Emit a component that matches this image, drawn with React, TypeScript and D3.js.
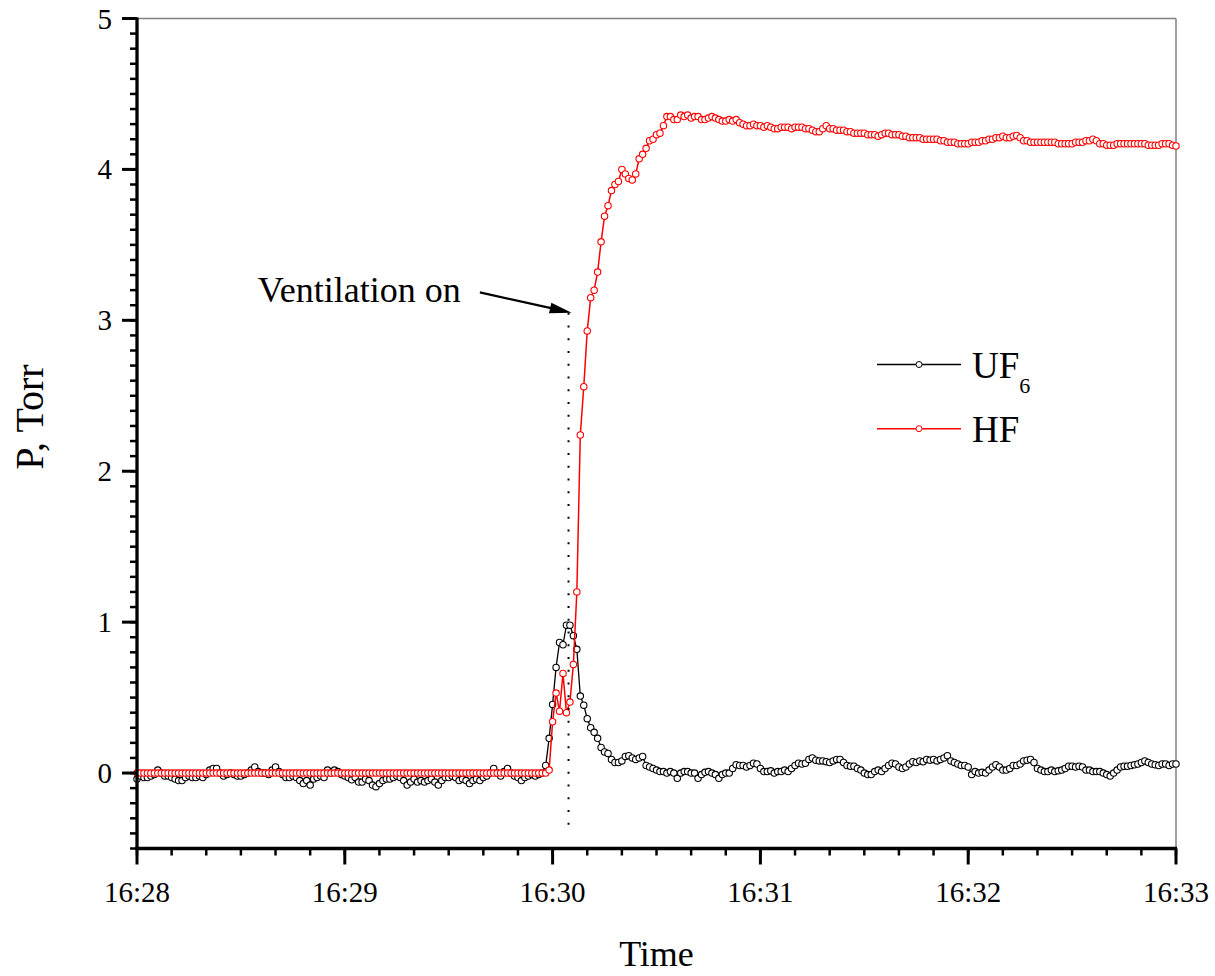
import React from "react";
import * as d3 from "d3";

// Sampling: one reading per second starting 16:28:00
const START_H = 16;
const START_M = 28;
const STEP_SECONDS = 1;

const uf6Values: number[] = [
  -0.04,-0.02,-0.03,-0.03,-0.02,-0.01,0.02,0.0,-0.02,-0.02,
  -0.03,-0.04,-0.05,-0.05,-0.03,-0.02,-0.03,-0.03,-0.02,-0.03,
  -0.01,0.02,0.03,0.03,0.0,-0.02,-0.01,0.0,-0.01,-0.02,
  -0.02,-0.01,0.0,0.02,0.04,0.01,0.0,0.0,-0.01,0.02,
  0.04,0.01,-0.01,-0.03,-0.03,-0.02,-0.03,-0.05,-0.07,-0.05,
  -0.08,-0.04,-0.03,-0.02,-0.03,0.02,0.0,0.02,0.01,-0.01,
  -0.02,-0.03,-0.045,-0.03,-0.06,-0.06,-0.04,-0.05,-0.08,-0.09,
  -0.07,-0.05,-0.04,-0.04,-0.03,-0.02,-0.03,-0.05,-0.08,-0.06,
  -0.04,-0.06,-0.05,-0.06,-0.05,-0.04,-0.06,-0.08,-0.05,-0.03,
  -0.03,-0.02,-0.03,-0.05,-0.04,-0.05,-0.07,-0.05,-0.04,-0.05,
  -0.03,-0.02,0.0,0.03,0.0,-0.02,0.01,0.03,0.0,-0.02,
  -0.03,-0.05,-0.03,-0.02,-0.01,-0.02,-0.01,0.0,0.05,0.23,
  0.455,0.70,0.865,0.85,0.98,0.98,0.91,0.82,0.51,0.45,
  0.36,0.30,0.27,0.23,0.17,0.14,0.13,0.09,0.07,0.07,
  0.08,0.11,0.115,0.10,0.09,0.10,0.11,0.05,0.04,0.03,
  0.02,0.01,0.01,0.0,0.01,0.0,-0.035,0.0,0.01,0.01,
  0.0,0.0,-0.035,-0.01,0.005,0.01,0.0,-0.01,-0.035,-0.01,
  0.0,0.0,0.03,0.055,0.05,0.05,0.04,0.05,0.065,0.06,
  0.03,0.01,0.01,0.015,0.0,0.01,0.01,0.02,0.01,0.03,
  0.05,0.065,0.06,0.065,0.09,0.10,0.085,0.08,0.08,0.075,
  0.07,0.08,0.09,0.09,0.07,0.05,0.045,0.045,0.03,0.02,
  0.0,-0.01,-0.01,0.01,0.02,0.01,0.03,0.05,0.065,0.06,
  0.04,0.03,0.04,0.06,0.075,0.07,0.08,0.075,0.09,0.085,
  0.09,0.08,0.09,0.10,0.115,0.08,0.07,0.06,0.05,0.05,
  0.04,-0.01,0.01,0.0,0.005,0.0,0.02,0.04,0.055,0.04,
  0.02,0.02,0.03,0.05,0.05,0.06,0.08,0.085,0.09,0.07,
  0.03,0.02,0.01,0.01,0.02,0.01,0.015,0.02,0.03,0.045,
  0.045,0.04,0.045,0.04,0.02,0.02,0.01,0.01,0.01,0.0,
  -0.01,-0.02,0.0,0.02,0.04,0.045,0.045,0.05,0.055,0.06,
  0.07,0.08,0.07,0.06,0.055,0.05,0.06,0.06,0.05,0.06,
  0.06,
];

const hfValues: number[] = [
  0,0,0,0,0,0,0,0,0,0,
  0,0,0,0,0,0,0,0,0,0,
  0,0,0,0,0,0,0,0,0,0,
  0,0,0,0,0,0,0,0,0,0,
  0,0,0,0,0,0,0,0,0,0,
  0,0,0,0,0,0,0,0,0,0,
  0,0,0,0,0,0,0,0,0,0,
  0,0,0,0,0,0,0,0,0,0,
  0,0,0,0,0,0,0,0,0,0,
  0,0,0,0,0,0,0,0,0,0,
  0,0,0,0,0,0,0,0,0,0,
  0,0,0,0,0,0,0,0,0,0.02,
  0.34,0.53,0.41,0.66,0.40,0.47,0.72,1.20,2.24,2.56,
  2.93,3.15,3.20,3.32,3.52,3.69,3.76,3.86,3.90,3.92,
  4.00,3.97,3.94,3.93,3.97,4.07,4.10,4.14,4.19,4.20,
  4.23,4.24,4.29,4.35,4.35,4.33,4.33,4.36,4.35,4.36,
  4.34,4.35,4.35,4.33,4.33,4.34,4.35,4.34,4.33,4.32,
  4.32,4.33,4.32,4.33,4.31,4.30,4.29,4.29,4.30,4.29,
  4.29,4.28,4.29,4.28,4.27,4.27,4.28,4.28,4.28,4.27,
  4.28,4.28,4.28,4.27,4.27,4.26,4.25,4.25,4.27,4.29,
  4.27,4.27,4.26,4.26,4.26,4.25,4.25,4.24,4.24,4.24,
  4.24,4.23,4.23,4.23,4.22,4.23,4.24,4.24,4.23,4.23,
  4.23,4.22,4.22,4.21,4.21,4.21,4.21,4.20,4.20,4.20,
  4.20,4.20,4.19,4.19,4.18,4.18,4.18,4.17,4.17,4.17,
  4.17,4.18,4.18,4.18,4.19,4.19,4.20,4.20,4.21,4.21,
  4.22,4.21,4.21,4.22,4.225,4.21,4.19,4.19,4.18,4.18,
  4.18,4.18,4.18,4.18,4.18,4.18,4.17,4.17,4.17,4.17,
  4.17,4.18,4.18,4.18,4.19,4.19,4.20,4.19,4.17,4.17,
  4.16,4.16,4.16,4.17,4.17,4.17,4.17,4.17,4.17,4.17,
  4.17,4.17,4.16,4.16,4.16,4.16,4.17,4.17,4.17,4.16,
  4.155,
];

const yMajorTicks = [0, 1, 2, 3, 4, 5];
const yDomain: [number, number] = [-0.5, 5];
const xSpanMinutes = 5;

// Annotation (data coordinates: seconds after 16:28:00, Torr)
const ventTimeSec = 124.6;
const ventTop = 3.05;
const ventBottom = -0.4;
const arrowFrom = { s: 99, v: 3.185 };
const arrowTo = { s: 125.5, v: 3.05 };
const noteText = "Ventilation on";
const notePos = { s: 34.9, v: 3.12 };

const T0 = Date.UTC(2000, 0, 1, START_H, START_M, 0);
const tAt = (sec: number) => new Date(T0 + sec * 1000);

export default function App() {
  const W = 1215, H = 976;
  const left = 137, right = 1176, top = 18.5, bottom = 848.5;
  const x = d3.scaleUtc().domain([tAt(0), tAt(xSpanMinutes * 60)]).range([left, right]);
  const y = d3.scaleLinear().domain(yDomain).range([bottom, top]);
  const fmt = d3.utcFormat("%H:%M");

  const uf6 = uf6Values.map((v, i) => ({ t: tAt(i * STEP_SECONDS), v }));
  const hf = hfValues.map((v, i) => ({ t: tAt(i * STEP_SECONDS), v }));
  const line = d3.line<{ t: Date; v: number }>().x((d) => x(d.t)).y((d) => y(d.v));

  const xMajor = x.ticks(d3.utcMinute.every(1)!);
  const xMinor = x.ticks(d3.utcSecond.every(10)!);
  const yMinor = d3.range(-5, 51).map((k) => k / 10);

  const font = "'Liberation Serif', 'Times New Roman', serif";

  const ax1 = x(tAt(arrowFrom.s)), ay1 = y(arrowFrom.v);
  const ax2 = x(tAt(arrowTo.s)), ay2 = y(arrowTo.v);
  const ang = Math.atan2(ay2 - ay1, ax2 - ax1);
  const headL = 22, headW = 5.5;
  const bx = ax2 - headL * Math.cos(ang), by = ay2 - headL * Math.sin(ang);
  const px = -Math.sin(ang), py = Math.cos(ang);

  const vx = x(tAt(ventTimeSec));

  return (
    <svg width={W} height={H} style={{ position: "absolute", left: 0, top: 0, background: "#fff" }}>
      <rect x={0} y={0} width={W} height={H} fill="#fff" />
      {/* frame top/right */}
      <line x1={left} x2={right} y1={top} y2={top} stroke="#808080" strokeWidth={1.5} />
      <line x1={right} x2={right} y1={top} y2={bottom} stroke="#808080" strokeWidth={1.5} />

      {/* UF6 */}
      <path d={line(uf6) || ""} fill="none" stroke="#000" strokeWidth={1.3} />
      {uf6.map((d, i) => (
        <circle key={"u" + i} cx={x(d.t)} cy={y(d.v)} r={3.2} fill="#fff" stroke="#000" strokeWidth={1.1} />
      ))}

      {/* HF */}
      <path d={line(hf) || ""} fill="none" stroke="#ff0000" strokeWidth={1.5} />
      {hf.map((d, i) => (
        <circle key={"h" + i} cx={x(d.t)} cy={y(d.v)} r={3.2} fill="#fff" stroke="#ff0000" strokeWidth={1.1} />
      ))}

      {/* ventilation dotted line */}
      <line x1={vx} x2={vx} y1={y(ventTop)} y2={y(ventBottom)} stroke="#000" strokeWidth={2} strokeDasharray="2 10.75" />

      {/* arrow */}
      <line x1={ax1} y1={ay1} x2={bx + 2 * Math.cos(ang)} y2={by + 2 * Math.sin(ang)} stroke="#000" strokeWidth={2.2} />
      <polygon
        points={`${ax2},${ay2} ${bx + px * headW},${by + py * headW} ${bx - px * headW},${by - py * headW}`}
        fill="#000"
      />
      <text x={x(tAt(notePos.s))} y={y(notePos.v)} fontFamily={font} fontSize={36} fill="#000">
        {noteText}
      </text>

      {/* legend */}
      <line x1={877} x2={961} y1={364.5} y2={364.5} stroke="#000" strokeWidth={1.3} />
      <circle cx={919} cy={364.5} r={3} fill="#fff" stroke="#000" strokeWidth={1} />
      <text x={972} y={378} fontFamily={font} fontSize={37} fill="#000">
        UF
        <tspan fontSize={22} dy={15}>6</tspan>
      </text>
      <line x1={877} x2={961} y1={428.7} y2={428.7} stroke="#ff0000" strokeWidth={1.5} />
      <circle cx={919} cy={428.7} r={3} fill="#fff" stroke="#ff0000" strokeWidth={1} />
      <text x={972} y={442} fontFamily={font} fontSize={37} fill="#000">HF</text>

      {/* y axis */}
      {yMinor.map((v) => (
        <line key={"ym" + v} x1={left - 7} x2={left} y1={y(v)} y2={y(v)} stroke="#000" strokeWidth={2.5} />
      ))}
      {yMajorTicks.map((v) => (
        <g key={"yM" + v}>
          <line x1={left - 15} x2={left} y1={y(v)} y2={y(v)} stroke="#000" strokeWidth={3} />
          <text x={left - 25} y={y(v) + 10} textAnchor="end" fontFamily={font} fontSize={29} fill="#000">
            {v}
          </text>
        </g>
      ))}
      <line x1={left} x2={left} y1={top - 1} y2={bottom + 1.5} stroke="#000" strokeWidth={3.3} />

      {/* x axis */}
      {xMinor.map((t, i) => (
        <line key={"xm" + i} x1={x(t)} x2={x(t)} y1={bottom} y2={bottom + 7} stroke="#000" strokeWidth={2.5} />
      ))}
      {xMajor.map((t, i) => (
        <g key={"xM" + i}>
          <line x1={x(t)} x2={x(t)} y1={bottom} y2={bottom + 16} stroke="#000" strokeWidth={3} />
          <text x={x(t)} y={902} textAnchor="middle" fontFamily={font} fontSize={29} fill="#000">
            {fmt(t)}
          </text>
        </g>
      ))}
      <line x1={left - 1.5} x2={right + 1} y1={bottom} y2={bottom} stroke="#000" strokeWidth={3.3} />

      {/* axis titles */}
      <text x={(left + right) / 2} y={966} textAnchor="middle" fontFamily={font} fontSize={36} fill="#000">
        Time
      </text>
      <text
        transform={`translate(43, 417) rotate(-90)`}
        textAnchor="middle"
        fontFamily={font}
        fontSize={40}
        fill="#000"
      >
        P, Torr
      </text>
    </svg>
  );
}
